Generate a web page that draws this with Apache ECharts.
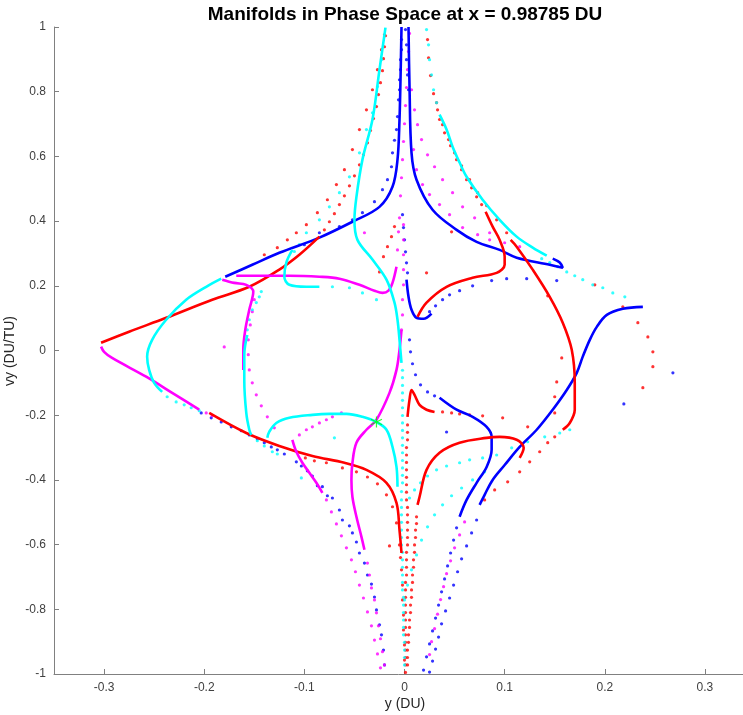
<!DOCTYPE html>
<html>
<head>
<meta charset="utf-8">
<script src="https://cdn.jsdelivr.net/npm/echarts@6/dist/echarts.min.js"></script>
<style>
html,body{margin:0;padding:0;background:#fff}
#chart{width:743px;height:715px}
</style>
</head>
<body>
<div id="chart"></div>
<script>
// Axis ticks
const xTicks = [-0.3, -0.2, -0.1, 0, 0.1, 0.2, 0.3];

// ---- Blue trajectories (y, vy) ----
const blueCurveA = [[-0.179,0.228],[-0.152,0.265],[-0.125,0.302],[-0.085,0.349],[-0.052,0.398],[-0.025,0.444],[-0.012,0.506],[-0.007,0.590],[-0.005,0.714],[-0.004,0.837],[-0.003,1.0]];
const blueCurveB = [[0.004,1.0],[0.005,0.816],[0.007,0.611],[0.012,0.528],[0.028,0.435],[0.052,0.373],[0.072,0.336],[0.095,0.311],[0.112,0.287],[0.145,0.265],[0.158,0.256],[0.155,0.272],[0.148,0.284]];
const blueCurveC = [[0.002,0.219],[0.004,0.166],[0.007,0.126],[0.012,0.101],[0.019,0.098],[0.027,0.114]];
const blueCurveD = [[0.238,0.135],[0.218,0.129],[0.202,0.110],[0.192,0.073],[0.185,0.033],[0.178,-0.019],[0.172,-0.069],[0.162,-0.122],[0.148,-0.183],[0.132,-0.245],[0.115,-0.298],[0.100,-0.354],[0.088,-0.400],[0.080,-0.446],[0.075,-0.477]];
const blueCurveE = [[0.035,-0.146],[0.052,-0.183],[0.068,-0.205],[0.082,-0.236],[0.087,-0.267],[0.087,-0.307],[0.082,-0.360],[0.072,-0.409],[0.062,-0.462],[0.055,-0.514]];
const blueDotsUpper = [[-0.100,0.327],[-0.085,0.364],[-0.065,0.383],[-0.052,0.404],[-0.042,0.426],[-0.030,0.460],[-0.022,0.497],[-0.017,0.528],[-0.013,0.568],[-0.012,0.611],[-0.010,0.650],[-0.008,0.683],[-0.007,0.723],[-0.006,0.775],[-0.005,0.806],[-0.005,0.837],[-0.004,0.868],[-0.004,0.899],[-0.003,0.930],[-0.003,0.961]];
const blueDotsCenter = [[0.001,0.992],[0.002,0.945],[0.002,0.899],[0.003,0.852],[0.004,0.806],[-0.002,0.420],[-0.001,0.380],[0,0.342],[0.001,0.305],[0.002,0.271],[0.003,0.240],[0.005,0.033],[0.006,-0.004],[0.008,-0.041],[0.011,-0.075],[0.016,-0.106],[0.023,-0.128],[0.030,-0.140]];
const blueDotsRight = [[0.025,0.120],[0.031,0.138],[0.038,0.157],[0.045,0.172],[0.055,0.185],[0.068,0.200],[0.087,0.216],[0.102,0.222],[0.122,0.222],[0.152,0.216]];
const blueDotsLowerLeft = [[-0.203,-0.193],[-0.193,-0.208],[-0.183,-0.221],[-0.173,-0.236],[-0.163,-0.248],[-0.155,-0.261],[-0.147,-0.273],[-0.140,-0.285],[-0.133,-0.298],[-0.127,-0.307],[-0.120,-0.320],[-0.108,-0.344],[-0.103,-0.357],[-0.097,-0.372],[-0.092,-0.388],[-0.087,-0.418],[-0.082,-0.421],[-0.077,-0.449],[-0.072,-0.456],[-0.065,-0.493],[-0.062,-0.524],[-0.055,-0.542],[-0.052,-0.564],[-0.048,-0.592],[-0.045,-0.626],[-0.040,-0.657],[-0.037,-0.694],[-0.033,-0.722],[-0.030,-0.762],[-0.028,-0.802],[-0.025,-0.848],[-0.023,-0.879],[-0.021,-0.926],[-0.020,-0.972]];
const blueDotsLowerRight = [[0.072,-0.524],[0.067,-0.564],[0.062,-0.604],[0.057,-0.644],[0.053,-0.684],[0.049,-0.725],[0.045,-0.765],[0.041,-0.805],[0.037,-0.845],[0.034,-0.886],[0.031,-0.923],[0.028,-0.960],[0.025,-0.994],
  [0.052,-0.548],[0.049,-0.586],[0.046,-0.626],[0.043,-0.666],[0.040,-0.706],[0.037,-0.746],[0.034,-0.787],[0.031,-0.827],[0.028,-0.867],[0.025,-0.907],[0.022,-0.947],[0.019,-0.988]];
const blueDotsLoose = [[0.042,-0.252],[0.219,-0.165],[0.268,-0.069]];

// ---- Red trajectories ----
const redCurveA = [[-0.303,0.024],[-0.275,0.058],[-0.238,0.101],[-0.192,0.157],[-0.155,0.197],[-0.125,0.250],[-0.105,0.296],[-0.085,0.352]];
const redDotsA = [[-0.080,0.373],[-0.075,0.398],[-0.070,0.423],[-0.065,0.451],[-0.060,0.478],[-0.055,0.509],[-0.050,0.540],[-0.045,0.574],[-0.041,0.605],[-0.037,0.642],[-0.034,0.680],[-0.031,0.717],[-0.028,0.754],[-0.026,0.791],[-0.024,0.828],[-0.022,0.865],[-0.021,0.902],[-0.020,0.939],[-0.019,0.973]];
const redDotsOuter = [[-0.140,0.296],[-0.127,0.318],[-0.117,0.342],[-0.108,0.364],[-0.098,0.389],[-0.087,0.426],[-0.077,0.466],[-0.068,0.513],[-0.060,0.559],[-0.052,0.621],[-0.045,0.683],[-0.038,0.744],[-0.032,0.806],[-0.027,0.868],[-0.023,0.930],[-0.020,0.976]];
const redCurveB = [[-0.195,-0.193],[-0.158,-0.255],[-0.125,-0.295],[-0.092,-0.326],[-0.060,-0.347],[-0.038,-0.369],[-0.018,-0.409],[-0.008,-0.471],[-0.005,-0.555],[-0.003,-0.626]];
const redDotsB = [[-0.099,-0.332],[-0.090,-0.341],[-0.078,-0.347],[-0.062,-0.363],[-0.048,-0.375],[-0.037,-0.391],[-0.027,-0.412],[-0.018,-0.446],[-0.012,-0.483],[-0.008,-0.533],[-0.005,-0.601],[-0.004,-0.640],[-0.003,-0.678],[-0.002,-0.725],[-0.002,-0.771],[-0.001,-0.818],[-0.001,-0.864],[0,-0.910],[0,-0.957]];
const redCurveC = [[0.003,-0.205],[0.005,-0.152],[0.007,-0.122],[0.010,-0.137],[0.015,-0.168],[0.022,-0.183],[0.030,-0.190]];
const redDotsC = [[0.038,-0.190],[0.047,-0.193],[0.055,-0.196],[0.065,-0.199],[0.078,-0.202],[0.098,-0.208],[0.123,-0.236]];
const redDotsCenter = [[0.003,-0.230],[0.003,-0.253],[0.003,-0.276],[0.002,-0.300],[0.002,-0.323],[0.002,-0.346],[0.002,-0.369],[0.002,-0.392],[0.002,-0.415],[0.002,-0.438],[0.002,-0.462],[0.003,-0.485],[0.003,-0.508],[0.003,-0.531],[0.003,-0.555],[0.003,-0.578],[0.003,-0.601],[0.002,-0.624],[0.002,-0.647],[0.002,-0.670],[0.002,-0.694],[0.001,-0.717],[0.001,-0.740],[0.001,-0.763],[0.001,-0.787],[0.001,-0.810],[0.001,-0.833],[0.001,-0.856],[0.001,-0.879],[0.001,-0.902],[0.001,-0.926],[0.001,-0.949],[0.001,-0.972],[0.001,-0.995]];
const redCurveD = [[0.013,-0.477],[0.015,-0.453],[0.022,-0.369],[0.035,-0.316],[0.055,-0.285],[0.082,-0.270],[0.095,-0.267],[0.112,-0.276],[0.119,-0.301],[0.115,-0.332]];
const redDotsD = [[0.012,-0.514],[0.012,-0.535],[0.011,-0.555],[0.011,-0.578],[0.010,-0.601],[0.010,-0.624],[0.009,-0.647],[0.009,-0.670],[0.008,-0.694],[0.008,-0.717],[0.007,-0.740],[0.007,-0.763],[0.006,-0.787],[0.006,-0.810],[0.005,-0.833],[0.005,-0.856],[0.004,-0.879],[0.004,-0.902],[0.003,-0.926],[0.003,-0.949],[0.003,-0.972]];
const redDotsE = [[0.032,0.766],[0.035,0.714],[0.040,0.673],[0.046,0.633],[0.052,0.590],[0.057,0.559],[0.062,0.528],[0.067,0.503],[0.072,0.475],[0.077,0.451]];
const redCurveE = [[0.081,0.429],[0.088,0.383],[0.095,0.342],[0.100,0.290],[0.100,0.265],[0.092,0.240],[0.068,0.225],[0.042,0.197],[0.022,0.148],[0.013,0.104]];
const redDotsF = [[0.023,0.961],[0.024,0.905],[0.026,0.850],[0.029,0.794],[0.033,0.744],[0.038,0.698],[0.044,0.652],[0.050,0.611],[0.057,0.571],[0.065,0.528],[0.073,0.488],[0.082,0.448],[0.092,0.404],[0.102,0.364]];
const redCurveF = [[0.106,0.342],[0.112,0.321],[0.128,0.250],[0.145,0.166],[0.158,0.086],[0.167,0.002],[0.170,-0.100],[0.170,-0.183],[0.165,-0.224],[0.158,-0.245]];
const redDotsG = [[0.150,-0.267],[0.143,-0.285],[0.135,-0.313],[0.125,-0.344],[0.115,-0.375],[0.103,-0.406],[0.090,-0.431],[0.080,-0.462]];
const redDotsRight = [[0.143,0.169],[0.190,0.203],[0.218,0.135],[0.233,0.086],[0.243,0.042],[0.248,-0.004],[0.248,-0.050],[0.238,-0.115],[0.157,-0.023],[0.152,-0.097],[0.150,-0.143],[0.150,-0.193]];
const redDotsLoose = [[-0.010,0.383],[-0.013,0.352],[-0.017,0.321],[-0.021,0.290],[-0.025,0.243],[0.022,0.240],[0.047,0.367],[-0.015,-0.604]];

// ---- Magenta trajectories ----
const magentaCurveA = [[-0.303,0.012],[-0.300,-0.004],[-0.292,-0.023],[-0.258,-0.081],[-0.232,-0.131],[-0.205,-0.183]];
const magentaCurveB = [[-0.182,0.219],[-0.170,0.209],[-0.158,0.203],[-0.151,0.182],[-0.155,0.126],[-0.159,0.064],[-0.161,0.002],[-0.161,-0.060]];
const magentaCurveC = [[-0.168,0.231],[-0.145,0.231],[-0.115,0.231],[-0.085,0.228],[-0.065,0.222],[-0.045,0.203],[-0.030,0.185],[-0.022,0.178],[-0.016,0.185],[-0.012,0.209],[-0.008,0.259]];
const magentaCurveD = [[-0.003,0.064],[-0.005,0.002],[-0.008,-0.060],[-0.015,-0.131],[-0.028,-0.214],[-0.038,-0.245],[-0.048,-0.285],[-0.052,-0.347],[-0.053,-0.400],[-0.052,-0.453],[-0.048,-0.514],[-0.043,-0.576],[-0.040,-0.616]];
const magentaCurveE = [[-0.112,-0.276],[-0.108,-0.313],[-0.102,-0.347],[-0.095,-0.378],[-0.088,-0.409],[-0.082,-0.440]];
const magentaDotsA = [[-0.198,-0.193],[-0.192,-0.202],[-0.180,0.011],[-0.040,0.364]];
const magentaDotsB = [[-0.150,0.157],[-0.152,0.120],[-0.154,0.079],[-0.156,0.033],[-0.156,-0.013],[-0.155,-0.060],[-0.152,-0.100],[-0.148,-0.137],[-0.143,-0.171],[-0.137,-0.205],[-0.130,-0.239]];
const magentaDotsC = [[-0.007,0.311],[-0.006,0.367],[-0.005,0.410],[-0.004,0.478],[-0.003,0.534],[-0.002,0.590],[-0.001,0.646],[0,0.701],[0.001,0.757],[0.002,0.813],[0.003,0.868],[0.004,0.924],[0.005,0.980],
  [-0.001,0.389],[-0.001,0.342],[-0.001,0.296],[-0.001,0.250],[-0.001,0.203],[-0.002,0.157],[-0.002,0.110],[-0.003,0.064]];
const magentaDotsD = [[-0.037,-0.657],[-0.035,-0.694],[-0.033,-0.734],[-0.030,-0.771],[-0.028,-0.811],[-0.026,-0.851],[-0.024,-0.891],[-0.022,-0.931],[-0.020,-0.972]];
const magentaDotsE = [[-0.105,-0.261],[-0.098,-0.245],[-0.092,-0.236],[-0.085,-0.224],[-0.078,-0.214],[-0.072,-0.205],[-0.063,-0.193],
  [-0.078,-0.462],[-0.073,-0.499],[-0.068,-0.536],[-0.063,-0.573],[-0.058,-0.610],[-0.053,-0.647],[-0.049,-0.684],[-0.045,-0.725],[-0.041,-0.765],[-0.037,-0.808],[-0.033,-0.851],[-0.030,-0.895],[-0.027,-0.938],[-0.024,-0.981]];
const magentaDotsF = [[0.007,0.806],[0.010,0.744],[0.013,0.698],[0.017,0.652],[0.023,0.605],[0.030,0.568],[0.038,0.528],[0.048,0.488],[0.058,0.444],[0.070,0.410],[0.085,0.364],[0.100,0.333],[0.115,0.321],
  [0.009,0.621],[0.012,0.559],[0.018,0.513],[0.025,0.482],[0.035,0.451],[0.045,0.420],[0.058,0.380],[0.073,0.358],[0.085,0.342]];
const magentaDotsG = [[0.060,-0.530],[0.055,-0.570],[0.050,-0.610],[0.046,-0.650],[0.042,-0.690],[0.039,-0.730],[0.036,-0.770],[0.033,-0.815],[0.030,-0.860],[0.027,-0.900],[0.025,-0.940]];

// ---- Cyan trajectories ----
const cyanCurveA = [[-0.019,0.998],[-0.025,0.868],[-0.032,0.714],[-0.042,0.590],[-0.048,0.475],[-0.050,0.404],[-0.047,0.342],[-0.032,0.281],[-0.018,0.219],[-0.010,0.148],[-0.007,0.095],[-0.005,0.033],[-0.003,-0.038]];
const cyanDotsA = [[-0.002,-0.061],[-0.002,-0.084],[-0.002,-0.108],[-0.002,-0.131],[-0.002,-0.154],[-0.002,-0.177],[-0.002,-0.201],[-0.002,-0.224],[-0.002,-0.247],[-0.002,-0.270],[-0.002,-0.293],[-0.002,-0.316],[-0.002,-0.340],[-0.002,-0.363],[-0.002,-0.386],[-0.002,-0.409],[-0.003,-0.436],[-0.003,-0.462],[-0.003,-0.485],[-0.003,-0.508],[-0.003,-0.531],[-0.003,-0.555],[-0.003,-0.578],[-0.003,-0.601],[-0.002,-0.624],[-0.002,-0.647],[-0.002,-0.670],[-0.002,-0.694],[-0.002,-0.717],[-0.002,-0.740],[-0.001,-0.763],[-0.001,-0.787],[-0.001,-0.810],[-0.001,-0.833],[-0.001,-0.856],[-0.001,-0.879],[0,-0.902],[0,-0.926],[0,-0.949],[0,-0.972]];
const cyanDotsB = [[0.022,0.992],[0.024,0.945],[0.025,0.899],[0.027,0.852],[0.029,0.806],[0.032,0.766]];
const cyanCurveB = [[0.035,0.729],[0.042,0.683],[0.048,0.630],[0.055,0.581],[0.062,0.537],[0.078,0.466],[0.095,0.404],[0.112,0.352],[0.128,0.318],[0.142,0.293]];
const cyanDotsC = [[0.137,0.284],[0.145,0.272],[0.153,0.259],[0.162,0.243],[0.170,0.231],[0.178,0.219],[0.188,0.203],[0.198,0.194],[0.208,0.178],[0.220,0.166]];
const cyanCurveC = [[-0.183,0.222],[-0.198,0.197],[-0.218,0.157],[-0.238,0.095],[-0.252,0.033],[-0.257,-0.019],[-0.255,-0.060],[-0.250,-0.100],[-0.242,-0.128]];
const cyanDotsD = [[-0.237,-0.143],[-0.228,-0.159],[-0.220,-0.168],[-0.213,-0.177],[-0.205,-0.186]];
const cyanDotsE = [[-0.023,0.899],[-0.027,0.816],[-0.032,0.735],[-0.038,0.683],[-0.045,0.611],[-0.055,0.537],[-0.065,0.488],[-0.075,0.444],[-0.085,0.404],[-0.098,0.364],[-0.105,0.327],[-0.110,0.306]];
const cyanCurveD = [[-0.112,0.311],[-0.118,0.272],[-0.120,0.228],[-0.115,0.203],[-0.098,0.197],[-0.085,0.197]];
const cyanDotsF = [[-0.072,0.197],[-0.055,0.194],[-0.042,0.178],[-0.028,0.157]];
const cyanDotsG = [[-0.143,0.182],[-0.145,0.166],[-0.148,0.148],[-0.152,0.126],[-0.155,0.095],[-0.157,0.064]];
const cyanCurveE = [[-0.157,0.048],[-0.160,-0.013],[-0.160,-0.091],[-0.158,-0.193],[-0.155,-0.245],[-0.153,-0.261]];
const cyanCurveF = [[-0.137,-0.270],[-0.135,-0.251],[-0.128,-0.224],[-0.115,-0.208],[-0.092,-0.199],[-0.075,-0.196],[-0.058,-0.196],[-0.042,-0.205],[-0.028,-0.221],[-0.018,-0.245],[-0.012,-0.298],[-0.008,-0.360],[-0.007,-0.421]];
const cyanDotsH = [[-0.147,-0.279],[-0.140,-0.295],[-0.132,-0.313],[-0.127,-0.320],[-0.103,-0.394],[-0.070,-0.270]];
const cyanDotsI = [[0.005,-0.456],[0.010,-0.431],[0.016,-0.409],[0.023,-0.388],[0.032,-0.369],[0.042,-0.357],[0.055,-0.347],[0.065,-0.338],[0.078,-0.332],[0.092,-0.323],[0.107,-0.301],[0.123,-0.282],[0.140,-0.267],[0.155,-0.255],[0.165,-0.245]];
const cyanDotsJ = [[0,-0.771],[0.003,-0.725],[0.007,-0.678],[0.012,-0.632],[0.017,-0.586],[0.023,-0.545],[0.030,-0.508],[0.038,-0.477],[0.047,-0.449],[0.057,-0.425],[0.068,-0.400],[0.080,-0.375]];

// ---- Marked point ----
const greenStar = [[-0.028,-0.221]];

const RED = '#ff0000', BLUE = '#0000ff', MAGENTA = '#ff00ff', CYAN = '#00ffff', GREEN = '#00ff00';

const curveSets = [
  [blueCurveA, BLUE], [blueCurveB, BLUE], [blueCurveC, BLUE], [blueCurveD, BLUE], [blueCurveE, BLUE],
  [redCurveA, RED], [redCurveB, RED], [redCurveC, RED], [redCurveD, RED], [redCurveE, RED], [redCurveF, RED],
  [magentaCurveA, MAGENTA], [magentaCurveB, MAGENTA], [magentaCurveC, MAGENTA], [magentaCurveD, MAGENTA], [magentaCurveE, MAGENTA],
  [cyanCurveA, CYAN], [cyanCurveB, CYAN], [cyanCurveC, CYAN], [cyanCurveD, CYAN], [cyanCurveE, CYAN], [cyanCurveF, CYAN]
];
const dotSets = [
  [blueDotsUpper, BLUE], [blueDotsCenter, BLUE], [blueDotsRight, BLUE], [blueDotsLowerLeft, BLUE], [blueDotsLowerRight, BLUE], [blueDotsLoose, BLUE],
  [redDotsA, RED], [redDotsOuter, RED], [redDotsB, RED], [redDotsC, RED], [redDotsCenter, RED], [redDotsD, RED], [redDotsE, RED], [redDotsF, RED], [redDotsG, RED], [redDotsRight, RED], [redDotsLoose, RED],
  [magentaDotsA, MAGENTA], [magentaDotsB, MAGENTA], [magentaDotsC, MAGENTA], [magentaDotsD, MAGENTA], [magentaDotsE, MAGENTA], [magentaDotsF, MAGENTA], [magentaDotsG, MAGENTA],
  [cyanDotsA, CYAN], [cyanDotsB, CYAN], [cyanDotsC, CYAN], [cyanDotsD, CYAN], [cyanDotsE, CYAN], [cyanDotsF, CYAN], [cyanDotsG, CYAN], [cyanDotsH, CYAN], [cyanDotsI, CYAN], [cyanDotsJ, CYAN]
];

const series = [];
curveSets.forEach(([data, color]) => series.push({
  type: 'line', data, smooth: 0.35, showSymbol: false, symbol: 'none',
  lineStyle: { color, width: 2.6 }, itemStyle: { color }, silent: true
}));
dotSets.forEach(([data, color]) => series.push({
  type: 'scatter', data, symbol: 'circle', symbolSize: 3.2,
  itemStyle: { color }, silent: true
}));
series.push({
  type: 'scatter', data: greenStar, symbol: 'path://M0,-10L0,10M-8.7,-5L8.7,5M-8.7,5L8.7,-5',
  symbolSize: 11, itemStyle: { color: 'none', borderColor: GREEN, borderWidth: 1.2 }, silent: true, z: 5
});

const axisGray = '#808080';
const labelGray = '#404040';

const chart = echarts.init(document.getElementById('chart'), null, { renderer: 'canvas' });
chart.setOption({
  animation: false,
  backgroundColor: '#ffffff',
  grid: { left: 54, right: 0, top: 27, bottom: 41, containLabel: false },
  xAxis: {
    type: 'value', min: -0.35, max: 0.338,
    axisLine: { onZero: false, lineStyle: { color: axisGray, width: 1 } },
    axisTick: { show: true, inside: true, length: 5, customValues: xTicks, lineStyle: { color: axisGray } },
    axisLabel: { customValues: xTicks, margin: 8, color: labelGray, fontFamily: 'Arial', fontSize: 12 },
    splitLine: { show: false }
  },
  yAxis: {
    type: 'value', min: -1, max: 1, interval: 0.2,
    axisLine: { show: true, onZero: false, lineStyle: { color: axisGray, width: 1 } },
    axisTick: { show: true, inside: true, length: 5, lineStyle: { color: axisGray } },
    axisLabel: { margin: 8, color: labelGray, fontFamily: 'Arial', fontSize: 12 },
    splitLine: { show: false }
  },
  graphic: [
    { type: 'text', x: 405, y: 5, style: { text: 'Manifolds in Phase Space at x = 0.98785 DU', font: 'bold 19px Arial', fill: '#000', textAlign: 'center', textVerticalAlign: 'top', align: 'center', verticalAlign: 'top' } },
    { type: 'text', x: 405, y: 697, style: { text: 'y (DU)', font: '14px Arial', fill: '#262626', textAlign: 'center', textVerticalAlign: 'top', align: 'center', verticalAlign: 'top' } },
    { type: 'text', x: 3, y: 351, rotation: Math.PI / 2, style: { text: 'vy (DU/TU)', font: '14px Arial', fill: '#262626', textAlign: 'center', textVerticalAlign: 'top', align: 'center', verticalAlign: 'top' } }
  ],
  series
});
</script>
</body>
</html>
